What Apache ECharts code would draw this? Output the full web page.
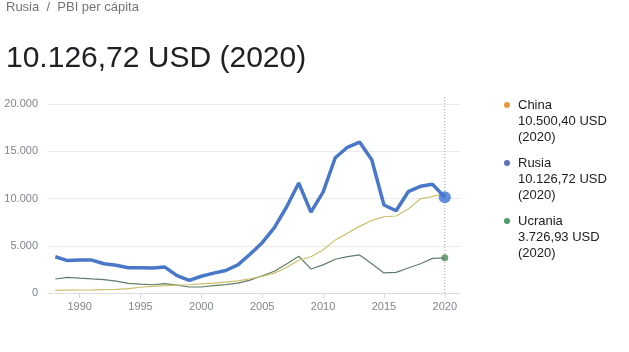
<!DOCTYPE html>
<html>
<head>
<meta charset="utf-8">
<script src="https://cdn.jsdelivr.net/npm/echarts@6/dist/echarts.min.js"></script>
<style>
  html, body { margin: 0; padding: 0; background: #fff; }
  #chart { width: 629px; height: 352px; }
</style>
</head>
<body>
<div id="chart"></div>
<script>
var years = [1988, 1989, 1990, 1991, 1992, 1993, 1994, 1995, 1996, 1997, 1998, 1999, 2000,
  2001, 2002, 2003, 2004, 2005, 2006, 2007, 2008, 2009, 2010, 2011, 2012, 2013, 2014,
  2015, 2016, 2017, 2018, 2019, 2020];
var rusia = [3840, 3430, 3490, 3485, 3095, 2930, 2665, 2665, 2645, 2740, 1835, 1330, 1770,
  2100, 2380, 2975, 4100, 5325, 6920, 9100, 11635, 8560, 10675, 14310, 15420, 15975, 14095,
  9315, 8705, 10720, 11290, 11500, 10127];
var china = [285, 310, 318, 333, 366, 377, 473, 610, 709, 782, 829, 873, 959,
  1053, 1149, 1289, 1509, 1753, 2099, 2694, 3468, 3832, 4550, 5618, 6317, 7051, 7679,
  8067, 8148, 8879, 9977, 10217, 10500];
var ucrania = [1480, 1660, 1570, 1490, 1420, 1260, 1012, 936, 873, 993, 835, 636, 636,
  781, 880, 1049, 1367, 1829, 2303, 3069, 3891, 2545, 2974, 3570, 3855, 4030, 3105,
  2125, 2188, 2641, 3097, 3662, 3727];
var yearLabels = [1990, 1995, 2000, 2005, 2010, 2015, 2020];
var legendItems = [
  { name: 'China', value: '10.500,40 USD', year: '(2020)', color: '#e49b3b' },
  { name: 'Rusia', value: '10.126,72 USD', year: '(2020)', color: '#5a70b8' },
  { name: 'Ucrania', value: '3.726,93 USD', year: '(2020)', color: '#4f9a63' }
];

function pairs(vals) {
  var out = [];
  for (var i = 0; i < years.length; i++) {
    out.push([years[i], vals[i]]);
  }
  return out;
}

function fmt(v) {
  return String(v).replace(/\B(?=(\d{3})+(?!\d))/g, '.');
}

var font = 'Arial, "Liberation Sans", sans-serif';
var graphics = [
  { type: 'text', left: 6, top: 1, style: { text: 'Rusia  /  PBI per cápita', fill: '#70757a', font: '13px ' + font } },
  { type: 'text', left: 6, top: 44, style: { text: '10.126,72 USD (2020)', fill: '#202124', font: '30px ' + font } }
];
for (var k = 0; k < legendItems.length; k++) {
  var it = legendItems[k];
  var ty = 97 + k * 58;
  graphics.push({ type: 'circle', shape: { cx: 507, cy: ty + 8, r: 3 }, style: { fill: it.color } });
  graphics.push({
    type: 'text', left: 518, top: ty,
    style: {
      text: it.name + '\n' + it.value + '\n' + it.year,
      fill: '#202124', font: '13px ' + font, lineHeight: 16
    }
  });
}

var option = {
  animation: false,
  grid: { left: 48, right: 169, top: 104, bottom: 59 },
  xAxis: {
    type: 'value',
    min: 1987.4,
    max: 2021.25,
    splitLine: { show: false },
    axisLine: { lineStyle: { color: '#dadce0' } },
    axisTick: { show: true, customValues: yearLabels, length: 5, lineStyle: { color: '#dadce0' } },
    axisLabel: { customValues: yearLabels, color: '#80868b', fontSize: 11, margin: 8,
      fontFamily: font, formatter: function (v) { return String(v); } }
  },
  yAxis: {
    type: 'value',
    min: 0,
    max: 20000,
    interval: 5000,
    axisLine: { show: false },
    axisTick: { show: false },
    splitLine: { lineStyle: { color: '#ebebeb' } },
    axisLabel: { color: '#80868b', fontSize: 11, margin: 10, fontFamily: font,
      formatter: function (v) { return fmt(v); } }
  },
  series: [
    {
      name: 'Ucrania', type: 'line', data: pairs(ucrania), symbol: 'none',
      lineStyle: { color: '#617d68', width: 1.2 }, z: 2
    },
    {
      name: 'China', type: 'line', data: pairs(china), symbol: 'none',
      lineStyle: { color: '#cbc06a', width: 1.2 }, z: 3
    },
    {
      name: 'Rusia', type: 'line', data: pairs(rusia), symbol: 'none',
      lineStyle: { color: '#4a78c8', width: 3.5 }, z: 4
    },
    {
      name: 'ends', type: 'scatter', z: 5,
      data: [
        { value: [2020, ucrania[ucrania.length - 1]], symbolSize: 7, itemStyle: { color: '#4f8a5e' } },
        { value: [2020, rusia[rusia.length - 1]], symbolSize: 12, itemStyle: { color: '#3b73d4' } }
      ]
    }
  ],
  graphic: graphics
};

var myChart = echarts.init(document.getElementById('chart'));
myChart.setOption(option);

// dotted guide line at the last year, reaching a bit above the plot
var gx = myChart.convertToPixel({ xAxisIndex: 0 }, 2020);
var gy0 = myChart.convertToPixel({ yAxisIndex: 0 }, 0);
graphics.push({
  type: 'line', z: 1,
  shape: { x1: gx, y1: 97, x2: gx, y2: gy0 },
  style: { stroke: '#9aa0a6', lineWidth: 1, lineDash: [1, 2] }
});
myChart.setOption({ graphic: graphics });
</script>
</body>
</html>
